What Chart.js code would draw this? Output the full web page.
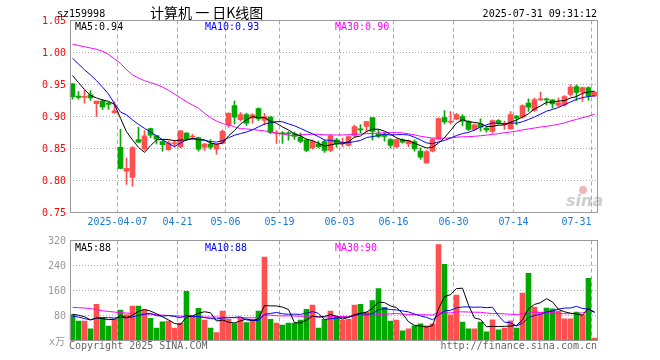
<!DOCTYPE html>
<html><head><meta charset="utf-8">
<script src="https://cdn.jsdelivr.net/npm/chart.js@4/dist/chart.umd.min.js"></script>
<style>
html,body{margin:0;padding:0;background:#fff;width:660px;height:360px;overflow:hidden}
#wrap{position:relative;width:660px;height:360px;background:#fff}
canvas{position:absolute;left:0}
#c1{top:0}#c2{top:232px}
</style></head><body>
<div id="wrap"><canvas id="c1" width="660" height="232"></canvas><canvas id="c2" width="660" height="128"></canvas></div>
<script>
// ---------------- data ----------------
const dates = ['03-25','03-26','03-27','03-28','03-31','04-01','04-02','04-03','04-07','04-08','04-09','04-10','04-11','04-14','04-15','04-16','04-17','04-18','04-21','04-22','04-23','04-24','04-25','04-28','04-29','04-30','05-06','05-07','05-08','05-09','05-12','05-13','05-14','05-15','05-16','05-19','05-20','05-21','05-22','05-23','05-26','05-27','05-28','05-29','05-30','06-03','06-04','06-05','06-06','06-09','06-10','06-11','06-12','06-13','06-16','06-17','06-18','06-19','06-20','06-23','06-24','06-25','06-26','06-27','06-30','07-01','07-02','07-03','07-04','07-07','07-08','07-09','07-10','07-11','07-14','07-15','07-16','07-17','07-18','07-21','07-22','07-23','07-24','07-25','07-28','07-29','07-30','07-31'];
const opens = [0.951,0.932,0.930,0.934,0.920,0.924,0.921,0.906,0.852,0.8145,
0.805,0.864,0.8494,0.881,0.870,0.861,0.848,0.857,0.853,0.874,
0.868,0.867,0.852,0.857,0.849,0.858,0.887,0.917,0.895,0.903,
0.8974,0.9125,0.8937,0.899,0.873,0.8745,0.8745,0.8729,0.8677,0.8635,
0.851,0.857,0.861,0.847,0.8635,0.858,0.8547,0.8703,0.880,0.8844,
0.8984,0.8729,0.871,0.864,0.853,0.8635,0.8573,0.861,0.8458,0.8276,
0.8458,0.8646,0.8984,0.891,0.8958,0.900,0.8922,0.880,0.8885,0.8818,
0.8766,0.8938,0.8875,0.8807,0.9005,0.899,0.9208,0.9094,0.926,0.9276,
0.926,0.9172,0.9182,0.9344,0.9469,0.938,0.9453,0.932];
const highs = [0.952,0.939,0.941,0.940,0.924,0.927,0.923,0.923,0.880,0.835,
0.853,0.883,0.878,0.882,0.870,0.863,0.862,0.863,0.878,0.875,
0.872,0.868,0.858,0.864,0.857,0.879,0.906,0.924,0.906,0.905,
0.904,0.9135,0.905,0.900,0.878,0.8765,0.8765,0.8755,0.874,0.865,
0.8635,0.8615,0.863,0.8714,0.866,0.866,0.8698,0.8865,0.8875,0.892,
0.8984,0.879,0.8745,0.8656,0.865,0.865,0.8635,0.8635,0.851,0.847,
0.866,0.898,0.9094,0.9078,0.905,0.9031,0.8937,0.8885,0.8964,0.8844,
0.8948,0.895,0.893,0.9078,0.9016,0.9182,0.9276,0.9286,0.938,0.9286,
0.9266,0.929,0.9328,0.950,0.9495,0.9458,0.9464,0.939];
const lows = [0.927,0.927,0.921,0.925,0.900,0.911,0.911,0.905,0.818,0.794,
0.791,0.859,0.847,0.867,0.857,0.846,0.847,0.852,0.851,0.863,
0.864,0.846,0.847,0.849,0.841,0.857,0.883,0.8885,0.893,0.886,
0.8896,0.8937,0.887,0.873,0.858,0.858,0.863,0.864,0.859,0.845,
0.849,0.851,0.844,0.845,0.852,0.853,0.8536,0.8677,0.874,0.8755,
0.8635,0.867,0.8615,0.851,0.851,0.8583,0.853,0.8458,0.8333,0.8266,
0.8448,0.8635,0.8885,0.8885,0.8948,0.8854,0.878,0.878,0.877,0.8755,
0.874,0.888,0.880,0.8797,0.887,0.8974,0.9078,0.9078,0.925,0.918,
0.913,0.9146,0.916,0.9318,0.925,0.9234,0.925,0.931];
const closes = [0.931,0.930,0.931,0.929,0.924,0.915,0.919,0.909,0.819,0.819,
0.8516,0.860,0.8698,0.871,0.8646,0.856,0.859,0.859,0.8776,0.865,
0.869,0.849,0.857,0.852,0.857,0.877,0.905,0.899,0.903,0.8896,
0.9026,0.8963,0.900,0.875,0.874,0.873,0.873,0.8687,0.861,0.8469,
0.861,0.853,0.847,0.8698,0.857,0.859,0.8687,0.8844,0.879,0.892,
0.8766,0.869,0.869,0.855,0.864,0.860,0.8625,0.8495,0.8365,0.8453,
0.8646,0.8969,0.8917,0.8917,0.9031,0.8927,0.8797,0.887,0.8833,0.8792,
0.8937,0.889,0.889,0.9031,0.8974,0.9172,0.9146,0.9266,0.9266,0.926,
0.9198,0.9214,0.9312,0.9458,0.9375,0.9453,0.9318,0.938];
const volumes = [83,62,62,37,116,73,46,68,97,83,
110,110,97,71,40,60,62,40,56,157,
79,103,65,40,25,94,68,54,72,57,
68,94,267,68,56,49,56,56,65,100,
113,40,68,94,75,65,68,113,116,91,
128,166,106,62,65,31,37,47,53,47,
53,307,244,82,145,59,37,37,59,28,
66,34,40,63,40,152,215,107,91,104,
101,94,69,69,91,82,199,8];
const ma5Head  = [0.964,0.953,0.942,0.933];
const ma10Head = [0.991,0.982,0.973,0.965,0.956,0.946,0.935,0.920,0.907];
const ma30Head = [1.013,1.011,1.009,1.007,1.005,1.002,0.997,0.990,0.983,0.973,0.965,0.960,0.956,0.953,0.950,0.946,0.941,0.935,0.929,0.923,0.918,0.913,0.905,0.898,0.893,0.889,0.887,0.884,0.881];
const vma5Head  = [84,81,76,66];
const vma10Head = [78,75,70,66,72,73,73,72,74];
const vma30Head = [106,105,104,102,99,95,93,91,89,88,87,86,85,84,83,81,80,79,78,77,76,76,75,75,75,74,74,73,73];
const priceTicks = [1.05,1.00,0.95,0.90,0.85,0.80,0.75];
const volTicks = [320,240,160,80];
const dateTickKeys = ['04-07','04-21','05-06','05-19','06-03','06-16','06-30','07-14','07-31'];
const dateTickText = ['2025-04-07','04-21','05-06','05-19','06-03','06-16','06-30','07-14','07-31'];
const priceLegend = ['MA5:0.94','MA10:0.93','MA30:0.90'];
const volLegend = ['MA5:88','MA10:88','MA30:90'];
const symbolText = 'sz159998';
const titleText = '计算机 一 日K线图';
const timeText = '2025-07-31 09:31:12';
const volUnit = 'x万';
const footLeft = 'Copyright 2025 SINA.COM';
const footRight = 'http://finance.sina.com.cn';

// ---------------- helpers ----------------
function sma(arr, n, head){
  return arr.map((_, i) => i < n-1 ? head[i] : arr.slice(i-n+1, i+1).reduce((a,b)=>a+b,0)/n);
}
const RED = '#ff5050', GREEN = '#00a800', GRID = '#aaaaaa', BORDER = '#999999';
const MONO = '"DejaVu Sans Mono","Liberation Mono",monospace';
const candleColors = closes.map((c,i)=> c >= opens[i] ? RED : GREEN);
const tickIdx = dateTickKeys.map(k => dates.indexOf(k));
const marked = new Set(tickIdx);
const legendX = [75, 205, 335];
const legendColors = ['#000000','#0000ff','#ff00ff'];

function text(ctx, s, x, y, color, align, font){
  ctx.font = font || ('10px ' + MONO);
  ctx.fillStyle = color; ctx.textAlign = align || 'left'; ctx.textBaseline = 'alphabetic';
  ctx.fillText(s, x, y);
}
function frame(ctx, a){
  ctx.save(); ctx.strokeStyle = BORDER; ctx.lineWidth = 1;
  ctx.strokeRect(a.left+1, a.top, a.right-a.left-1, a.bottom-a.top);
  ctx.restore();
}
function xScaleOpts(h){
  return {type:'category', offset:true,
    grid:{offset:true, drawTicks:false, lineWidth:1, color: c => marked.has(c.index) ? GRID : 'rgba(0,0,0,0)'},
    border:{display:false, dash:[4,3]},
    ticks:{display:false, autoSkip:false},
    afterFit: s => { s.height = h; }};
}
function yScaleOpts(min, max, step){
  return {min, max, ticks:{display:false, stepSize:step},
    grid:{drawTicks:false, color: GRID, lineWidth:1},
    border:{display:false, dash:[1,2]},
    afterFit: s => { s.width = 69.5; }};
}
const lineDs = (label, data, color, order) => ({type:'line', label, data, borderColor:color, borderWidth:1, pointRadius:0, tension:0, fill:false, order});
const common = {responsive:false, animation:false, devicePixelRatio:1, events:[],
  plugins:{legend:{display:false}, tooltip:{enabled:false}}};

// ---------------- price chart ----------------
const decorPrice = {id:'decorPrice', afterDraw(chart){
  const {ctx, chartArea:a, scales:{x, y}} = chart;
  ctx.save();
  frame(ctx, a);
  priceTicks.forEach(v => text(ctx, v.toFixed(2), 66, y.getPixelForValue(v)+3.5, '#ff0000', 'right'));
  priceLegend.forEach((s,k) => text(ctx, s, legendX[k], 30, legendColors[k]));
  tickIdx.forEach((i,k) => {
    const s = dateTickText[k];
    const w = s.length*6.02;
    let cx = x.getPixelForValue(i) - 3;
    if (cx + w/2 > a.right - 6) cx = a.right - 6 - w/2;
    text(ctx, s, cx, 225, '#1a7ad6', 'center');
  });
  text(ctx, symbolText, 57, 17, '#000000', 'left');
  text(ctx, titleText, 150, 18, '#000000', 'left', '14px "Noto Sans CJK SC","Noto Sans CJK JP",sans-serif');
  text(ctx, timeText, 597, 17, '#000000', 'right');
  // sina watermark
  ctx.globalAlpha = 0.45;
  ctx.fillStyle = '#e06060'; ctx.beginPath(); ctx.arc(583, 190, 4, 0, Math.PI*2); ctx.fill();
  text(ctx, 'sina', 566, 206, '#909090', 'left', 'italic bold 16px "DejaVu Sans",sans-serif');
  ctx.restore();
}};
new Chart(document.getElementById('c1'), {
  type:'bar',
  data:{labels: dates, datasets:[
    lineDs('MA5', sma(closes,5,ma5Head), '#000000', 0),
    lineDs('MA10', sma(closes,10,ma10Head), '#0000ff', 1),
    lineDs('MA30', sma(closes,30,ma30Head), '#ff00ff', 2),
    {label:'body', data: opens.map((o,i)=>[o, closes[i]]), backgroundColor: candleColors, borderWidth:0, barThickness:5, grouped:false, minBarLength:1, order:3},
    {label:'wick', data: lows.map((l,i)=>[l, highs[i]]), backgroundColor: candleColors, borderWidth:0, barThickness:1, grouped:false, order:4}
  ]},
  options: Object.assign({}, common, {
    layout:{padding:{top:20.5, right:62.5, left:0, bottom:0}},
    scales:{x: xScaleOpts(19.5), y: yScaleOpts(0.75, 1.05, 0.05)}
  }),
  plugins:[decorPrice]
});

// ---------------- volume chart ----------------
const decorVol = {id:'decorVol', afterDraw(chart){
  const {ctx, chartArea:a, scales:{y}} = chart;
  ctx.save();
  frame(ctx, a);
  volTicks.forEach(v => text(ctx, String(v), 66, y.getPixelForValue(v)+3.5, '#999999', 'right'));
  text(ctx, volUnit, 65, y.getPixelForValue(0)+4, '#999999', 'right', '10px ' + MONO + ',"Noto Sans CJK SC"');
  volLegend.forEach((s,k) => text(ctx, s, legendX[k], 19, legendColors[k]));
  text(ctx, footLeft, 69, 117, '#666666', 'left');
  text(ctx, footRight, 597, 117, '#666666', 'right');
  ctx.restore();
}};
new Chart(document.getElementById('c2'), {
  type:'bar',
  data:{labels: dates, datasets:[
    lineDs('VMA5', sma(volumes,5,vma5Head), '#000000', 0),
    lineDs('VMA10', sma(volumes,10,vma10Head), '#0000ff', 1),
    lineDs('VMA30', sma(volumes,30,vma30Head), '#ff00ff', 2),
    {label:'vol', data: volumes, backgroundColor: candleColors, borderWidth:0, barThickness:5, grouped:false, order:3}
  ]},
  options: Object.assign({}, common, {
    layout:{padding:{top:8.5, right:62.5, left:0, bottom:0}},
    scales:{x: xScaleOpts(19.5), y: yScaleOpts(0, 320, 80)}
  }),
  plugins:[decorVol]
});
</script>
</body></html>
